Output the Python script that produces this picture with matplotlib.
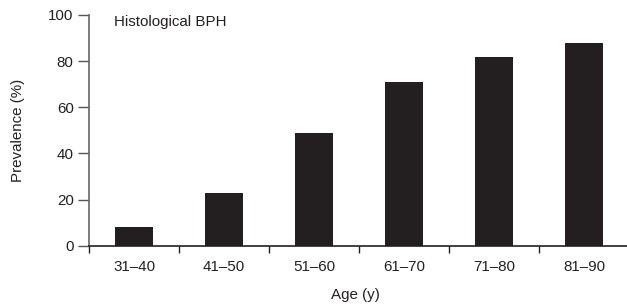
import matplotlib.pyplot as plt
import numpy as np

plt.rcParams['font.family'] = ['Liberation Sans', 'DejaVu Sans']

age_groups = ['31–40', '41–50', '51–60', '61–70', '71–80', '81–90']
prevalence = [8, 23, 49, 71, 82, 88]

bar_color = '#231f20'
fs = 10.9

fig = plt.figure(figsize=(6.27, 3.05), dpi=100)
ax = fig.add_axes([89 / 627, 59.3 / 305, 540 / 627, 230.7 / 305])

x = np.arange(len(age_groups))
ax.bar(x, prevalence, width=0.42, color=bar_color)

ax.set_xlim(-0.5, len(age_groups) - 0.5)
ax.set_ylim(0, 100)

ax.set_xticks(x)
ax.set_xticklabels(age_groups, fontsize=fs, color='#231f20')
ax.tick_params(axis='x', which='major', length=0, pad=10)
ax.set_xticks(np.arange(-0.5, len(age_groups), 1.0), minor=True)
ax.tick_params(axis='x', which='minor', length=5, width=1, color='#231f20')

ax.set_yticks([0, 20, 40, 60, 80, 100])
ax.tick_params(axis='y', length=8, width=1, color='#555555', labelsize=fs,
               labelcolor='#231f20', pad=3)

ax.spines['top'].set_visible(False)
ax.spines['right'].set_visible(False)
ax.spines['left'].set_color('#666666')
ax.spines['left'].set_linewidth(1.2)
ax.spines['bottom'].set_color('#231f20')
ax.spines['bottom'].set_linewidth(1.2)

ax.set_xlabel('Age (y)', fontsize=fs, color='#231f20', va='center')
ax.xaxis.set_label_coords((355 - 89) / 540, -(295 - 245.7) / 230.7)
ax.set_ylabel('Prevalence (%)', fontsize=fs, color='#231f20', va='center')
ax.yaxis.set_label_coords(-(89 - 18) / 540, 0.5)

fig.text(114 / 627, 1 - 22 / 305, 'Histological BPH', fontsize=fs,
         color='#231f20', va='center', ha='left')

fig.savefig('out.png', dpi=100)
